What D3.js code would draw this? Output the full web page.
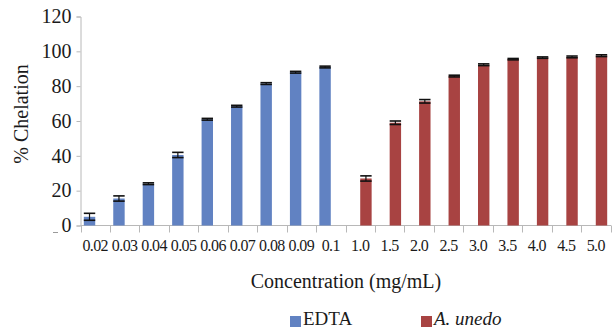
<!DOCTYPE html>
<html>
<head>
<meta charset="utf-8">
<script src="https://cdn.jsdelivr.net/npm/d3@7"></script>
<style>
  body { margin: 0; }
  svg text { font-family: "Liberation Serif", "Times New Roman", Tinos, FreeSerif !important; }
</style>
</head>
<body>
<script>
var width = 612, height = 329;
const fontNames = ["Liberation Serif", "Times New Roman", "Tinos", "FreeSerif"];
const FONT = fontNames.map(f => "'" + f + "'").join(", ");

// categories along the x axis
const categories = ["0.02","0.03","0.04","0.05","0.06","0.07","0.08","0.09","0.1",
                    "1.0","1.5","2.0","2.5","3.0","3.5","4.0","4.5","5.0"];
const seriesNames = ["EDTA", "A. unedo"];
// % chelation, null where the series has no bar
const edta    = [5, 15.5, 24, 40.5, 61, 68.5, 81.5, 88, 91, null, null, null, null, null, null, null, null, null];
const edtaErr = [2, 1.5, 0.5, 1.5, 0.5, 0.5, 0.5, 0.5, 0.5, null, null, null, null, null, null, null, null, null];
const unedo    = [null, null, null, null, null, null, null, null, null, 27, 59, 71.3, 85.8, 92.3, 95.5, 96.4, 96.8, 97.5];
const unedoErr = [null, null, null, null, null, null, null, null, null, 1.5, 1, 1, 0.5, 0.5, 0.4, 0.4, 0.5, 0.5];
const yTicks = [0, 20, 40, 60, 80, 100, 120];
const colors = ["#6182c2", "#a84342"];

var svg = d3.select('body').append('svg')
    .attr('width', width)
    .attr('height', height)
    .attr('font-family', FONT);

// helper: every text gets the serif family both as attribute and inline style
function serif(sel, size) {
    return sel.attr('font-family', FONT)
        .attr('font-size', size)
        .style('font-family', FONT)
        .style('font-size', size + 'px');
}

var x = d3.scaleBand().domain(categories).range([80.5, 610.5]).paddingInner(0).paddingOuter(0);
var xSub = d3.scaleBand().domain(seriesNames).range([0, x.bandwidth()]).paddingInner(0).paddingOuter(0.29);
var y = d3.scaleLinear().domain([0, 120]).range([225.5, 16.5]);

// y axis
const gY = svg.append('g').attr('transform', 'translate(80.5,0)')
    .call(d3.axisLeft(y).tickValues(yTicks).tickSize(4).tickPadding(5))
    .attr('font-family', FONT);
gY.select('.domain').attr('stroke', '#b8b8b8');
gY.selectAll('.tick line').attr('stroke', '#b8b8b8');
gY.selectAll('.tick text').remove();
serif(gY.selectAll('text.ylbl')
    .data(yTicks)
    .join('text')
    .attr('class', 'ylbl')
    .attr('x', -9)
    .attr('y', d => y(d))
    .attr('dy', '0.34em')
    .attr('text-anchor', 'end')
    .attr('fill', '#1a1a1a'), 20)
    .text(d => d);

// x axis
const gX = svg.append('g').attr('transform', 'translate(0,225.5)')
    .call(d3.axisBottom(x).tickSize(0).tickPadding(0))
    .attr('font-family', FONT);
gX.select('.domain').attr('stroke', '#b8b8b8').attr('d', 'M80.5,0H611');
gX.selectAll('.tick').remove();
// tick marks at band edges
gX.selectAll('line.edge')
    .data(categories.concat(['end']))
    .join('line')
    .attr('class', 'edge')
    .attr('x1', (d, i) => Math.round(80.5 + i * x.step()) + 0.5)
    .attr('x2', (d, i) => Math.round(80.5 + i * x.step()) + 0.5)
    .attr('y1', 0).attr('y2', 7)
    .attr('stroke', '#b8b8b8');
serif(gX.selectAll('text.lbl')
    .data(categories)
    .join('text')
    .attr('class', 'lbl')
    .attr('x', d => x(d) + x.bandwidth() / 2)
    .attr('y', 25)
    .attr('text-anchor', 'middle')
    .attr('fill', '#1a1a1a'), 16)
    .style('letter-spacing', '-0.6px')
    .text(d => d);

// stray mark near origin
svg.append('line').attr('x1', 53).attr('x2', 58).attr('y1', 232.5).attr('y2', 232.5).attr('stroke', '#9a9a9a');

// bars
const series = [
    { name: seriesNames[0], vals: edta, errs: edtaErr, color: colors[0] },
    { name: seriesNames[1], vals: unedo, errs: unedoErr, color: colors[1] }
];

series.forEach(function (s) {
    const pts = categories.map((c, i) => ({ c: c, v: s.vals[i], e: s.errs[i] })).filter(d => d.v != null);
    const g = svg.append('g');
    g.selectAll('rect')
        .data(pts)
        .join('rect')
        .attr('x', d => x(d.c) + xSub(s.name))
        .attr('width', xSub.bandwidth())
        .attr('y', d => y(d.v))
        .attr('height', d => y(0) - y(d.v))
        .attr('fill', s.color);
    // error bars
    const eb = g.selectAll('g.err').data(pts).join('g').attr('class', 'err');
    const cx = d => x(d.c) + xSub(s.name) + xSub.bandwidth() / 2;
    const hw = xSub.bandwidth() / 2;
    eb.append('line')
        .attr('x1', cx).attr('x2', cx)
        .attr('y1', d => y(d.v + d.e)).attr('y2', d => y(d.v - d.e))
        .attr('stroke', '#111').attr('stroke-width', 1.2);
    eb.append('line')
        .attr('x1', d => cx(d) - hw).attr('x2', d => cx(d) + hw)
        .attr('y1', d => y(d.v + d.e)).attr('y2', d => y(d.v + d.e))
        .attr('stroke', '#111').attr('stroke-width', 1.6);
    eb.append('line')
        .attr('x1', d => cx(d) - hw).attr('x2', d => cx(d) + hw)
        .attr('y1', d => y(d.v - d.e)).attr('y2', d => y(d.v - d.e))
        .attr('stroke', '#111').attr('stroke-width', 1.6);
});

// axis titles
serif(svg.append('text')
    .attr('x', 346).attr('y', 288)
    .attr('text-anchor', 'middle')
    .attr('fill', '#1a1a1a'), 20)
    .text('Concentration (mg/mL)');

serif(svg.append('text')
    .attr('transform', 'translate(28,114) rotate(-90)')
    .attr('text-anchor', 'middle')
    .attr('fill', '#1a1a1a'), 20)
    .text('% Chelation');

// legend
const legendX = [290, 421];
const leg = svg.append('g');
series.forEach(function (s, i) {
    leg.append('rect')
        .attr('x', legendX[i]).attr('y', 316)
        .attr('width', 11).attr('height', 11)
        .attr('fill', s.color);
    serif(leg.append('text')
        .attr('x', legendX[i] + 13).attr('y', 325)
        .attr('fill', '#1a1a1a'), 19)
        .style('font-style', i === 1 ? 'italic' : 'normal')
        .text(s.name);
});
</script>
</body>
</html>
